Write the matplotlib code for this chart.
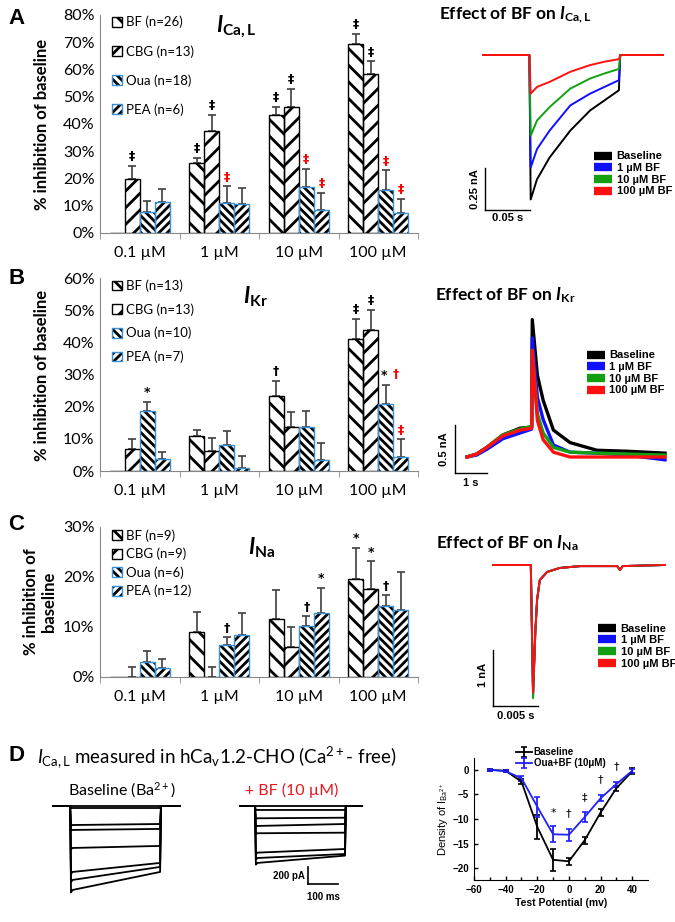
import matplotlib
matplotlib.use("Agg")
import matplotlib.pyplot as plt
import numpy as np
from matplotlib.patches import Patch
from matplotlib.lines import Line2D
from matplotlib.legend_handler import HandlerTuple

plt.rcParams['font.family'] = ['Lato', 'DejaVu Sans']
plt.rcParams['mathtext.fontset'] = 'custom'
plt.rcParams['mathtext.rm'] = 'Lato'
plt.rcParams['mathtext.it'] = 'Lato:italic'
plt.rcParams['mathtext.bf'] = 'Lato:bold'
plt.rcParams['mathtext.bfit'] = 'Lato:bold:italic'
plt.rcParams['hatch.linewidth'] = 2.0

W, H = 675, 922

# ---------------- bar data (% inhibition of baseline) ----------------
concentrations = ["0.1 µM", "1 µM", "10 µM", "100 µM"]
series = ["BF", "CBG", "Oua", "PEA"]

ica_n = [26, 13, 18, 6]
ica_bf = [0, 25.6, 43.4, 69.4]
ica_cbg = [19.9, 37.6, 46.2, 58.2]
ica_oua = [7.7, 11.0, 16.8, 15.7]
ica_pea = [11.3, 10.5, 8.4, 7.3]
ica_bf_err = [0, 2.0, 3.0, 3.7]
ica_cbg_err = [4.8, 5.8, 6.6, 4.8]
ica_oua_err = [4.2, 6.1, 6.7, 7.3]
ica_pea_err = [5.0, 5.9, 6.3, 5.3]
# (concentration index, series index, symbol, colour, x shift in points)
ica_marks = [(0, 1, '‡', 'k', 0), (1, 0, '‡', 'k', 0), (1, 1, '‡', 'k', 0), (1, 2, '‡', 'r', 0),
             (2, 0, '‡', 'k', 0), (2, 1, '‡', 'k', 0), (2, 2, '‡', 'r', 0), (2, 3, '‡', 'r', 0),
             (3, 0, '‡', 'k', 0), (3, 1, '‡', 'k', 0), (3, 2, '‡', 'r', 0), (3, 3, '‡', 'r', 0)]

ikr_n = [13, 13, 10, 7]
ikr_bf = [0, 10.8, 23.2, 41.0]
ikr_cbg = [6.7, 6.3, 13.7, 43.7]
ikr_oua = [18.7, 8.2, 13.8, 20.8]
ikr_pea = [3.6, 0.8, 3.3, 4.5]
ikr_bf_err = [0, 2.0, 4.8, 6.3]
ikr_cbg_err = [3.4, 4.0, 4.7, 6.3]
ikr_oua_err = [2.9, 4.3, 4.8, 5.9]
ikr_pea_err = [2.4, 3.9, 5.4, 5.3]
ikr_marks = [(0, 2, '*', 'k', 0), (2, 0, '†', 'k', 0), (3, 0, '‡', 'k', 0), (3, 1, '‡', 'k', 0),
             (3, 2, '*', 'k', -1), (3, 2, '†', 'r', 7), (3, 3, '‡', 'r', 0)]

ina_n = [9, 9, 6, 12]
ina_bf = [0, 8.9, 11.5, 19.5]
ina_cbg = [0, 0, 6.0, 17.6]
ina_oua = [3.0, 6.4, 10.1, 14.1]
ina_pea = [1.7, 8.3, 12.8, 13.3]
ina_bf_err = [0, 4.1, 5.8, 6.3]
ina_cbg_err = [1.9, 1.9, 4.0, 5.5]
ina_oua_err = [2.1, 1.5, 2.0, 2.2]
ina_pea_err = [1.9, 4.4, 5.0, 7.6]
ina_marks = [(1, 2, '†', 'k', 0), (2, 2, '†', 'k', 0), (2, 3, '*', 'k', 0),
             (3, 0, '*', 'k', 0), (3, 1, '*', 'k', 0), (3, 2, '†', 'k', 0)]

# ---------------- representative current traces ----------------
trace_labels = ["Baseline", "1 µM BF", "10 µM BF", "100 µM BF"]
trace_colors = ["black", "#1010ff", "#12a012", "#ff1010"]

ica_t = [0.0, 0.0515, 0.053, 0.060, 0.074, 0.097, 0.119, 0.135, 0.151, 0.1525, 0.2]   # s
ica_base = [0, 0, -0.86, -0.74, -0.61, -0.45, -0.33, -0.27, -0.21, 0, 0]              # nA
ica_1 = [0, 0, -0.67, -0.56, -0.45, -0.30, -0.23, -0.19, -0.15, 0, 0]
ica_10 = [0, 0, -0.48, -0.39, -0.31, -0.20, -0.14, -0.11, -0.083, 0, 0]
ica_100 = [0, 0, -0.23, -0.19, -0.16, -0.10, -0.06, -0.04, -0.025, 0, 0]

ikr_t = [0, 0.3, 0.62, 1.12, 1.66, 2.02, 2.04, 2.2, 2.38, 2.7, 3.22, 4.06, 5.0, 6.19]   # s
ikr_base = [0, 0.03, 0.10, 0.23, 0.30, 0.31, 1.43, 0.85, 0.59, 0.28, 0.15, 0.07, 0.06, 0.04]
ikr_1 = [0, 0.02, 0.08, 0.19, 0.25, 0.29, 1.24, 0.62, 0.39, 0.125, 0.05, 0.04, 0.02, -0.03]
ikr_10 = [0, 0.03, 0.10, 0.23, 0.29, 0.32, 1.11, 0.45, 0.25, 0.10, 0.05, 0.04, 0.03, 0.02]
ikr_100 = [0, 0.03, 0.10, 0.22, 0.28, 0.30, 1.11, 0.38, 0.18, 0.05, 0.0, 0.0, 0.0, 0.0]

ina_t = [0, 4.2, 4.45, 4.7, 4.9, 5.2, 6.0, 7.4, 9.7, 13.8, 14.1, 14.4, 19.1]          # ms
ina_base = [0, 0, -2.30, -1.2, -0.62, -0.27, -0.125, -0.054, -0.02, -0.02, -0.09, -0.02, 0]
ina_1 = [0, 0, -2.36, -1.2, -0.62, -0.27, -0.125, -0.054, -0.02, -0.02, -0.09, -0.02, 0]
ina_10 = [0, 0, -2.38, -1.2, -0.62, -0.27, -0.125, -0.054, -0.02, -0.02, -0.09, -0.02, 0]
ina_100 = [0, 0, -2.28, -1.2, -0.62, -0.27, -0.125, -0.054, -0.02, -0.02, -0.09, -0.02, 0]

# hCav1.2 Ba2+ current families (pA), step start / step end level per sweep
d_base_t = [0, 57, 60, 65, 357, 360, 423]             # ms
d_base_start = [0, -24, -224, -282, -494, -776, -870, -988]
d_base_end = [0, -24, -212, -270, -470, -670, -717, -776]
d_bf_t = [0, 50, 53, 58, 350, 353, 407]
d_bf_start = [0, -47, -145, -235, -321, -549, -612, -670]
d_bf_end = [0, -47, -138, -212, -314, -506, -565, -584]

# I-V relation
iv_v = [-50, -40, -30, -20, -10, 0, 10, 20, 30, 40]
iv_base = [0.0, -0.2, -2.4, -11.6, -18.3, -18.6, -14.3, -8.7, -3.75, -0.3]
iv_base_err = [0.2, 0.2, 0.5, 2.4, 2.2, 0.7, 0.7, 0.7, 0.5, 0.6]
iv_oua = [0.0, -0.3, -1.7, -7.5, -13.1, -13.2, -9.6, -5.8, -2.9, -0.2]
iv_oua_err = [0.2, 0.2, 0.5, 2.0, 1.6, 1.2, 1.1, 0.6, 0.5, 0.4]
iv_mark_v = [-10, 0, 10, 20, 30]
iv_mark_y = [-9.8, -9.8, -6.6, -3.0, -0.3]
iv_mark_sym = ['*', '†', '‡', '†', '†']

hatches = ['\\\\', '//', '\\\\\\\\', '////']
edges = ['black', 'black', '#3b8fd6', '#3b8fd6']
err_col = '#404040'


def px_axes(fig, x0, y0, x1, y1):
    return fig.add_axes([x0 / W, 1 - y1 / H, (x1 - x0) / W, (y1 - y0) / H])


def bar_panel(ax, means, errs, ns, ymax, marks, title, title_xy, leg_spacing):
    x = np.arange(len(concentrations))
    width = 0.19
    offsets = (np.arange(4) - 1.5) * width
    handles = []
    for i in range(4):
        m = np.array(means[i], dtype=float)
        e = np.array(errs[i], dtype=float)
        ax.bar(x + offsets[i], m, width, color='white', edgecolor='black',
               hatch=hatches[i], linewidth=0, zorder=2)
        ax.bar(x + offsets[i], m, width, fill=False, edgecolor=edges[i],
               linewidth=1.0, zorder=3)
        has = e > 0
        ax.errorbar(x[has] + offsets[i], m[has], yerr=[np.zeros(has.sum()), e[has]],
                    fmt='none', ecolor=err_col, elinewidth=1.2, capsize=3,
                    capthick=1.2, zorder=1)
        handles.append((Patch(facecolor='white', edgecolor='black', hatch=hatches[i], linewidth=0),
                        Patch(fill=False, edgecolor=edges[i], linewidth=1.0)))
    for gi, si, sym, col, dx in marks:
        top = means[si][gi] + errs[si][gi]
        dy = 2 if dx <= 0 else 3
        ax.annotate(sym, (x[gi] + offsets[si], top), xytext=(dx, dy),
                    textcoords='offset points', ha='center', va='bottom',
                    fontsize=9, color=col, fontweight='bold', family='DejaVu Sans')
    labels = [f"{s} (n={n})" for s, n in zip(series, ns)]
    ax.legend(handles, labels, handler_map={tuple: HandlerTuple(ndivide=1)},
              loc='upper left', bbox_to_anchor=(0.02, 1.02), frameon=False,
              fontsize=9.5, handlelength=0.75, handleheight=0.75,
              handletextpad=0.35, labelspacing=leg_spacing, borderaxespad=0)
    ax.text(title_xy[0], title_xy[1], title, transform=ax.transAxes,
            ha='center', va='center', fontsize=16)
    ax.set_xlim(-0.5, 3.5)
    ax.set_ylim(0, ymax)
    ax.set_yticks(np.arange(0, ymax + 1, 10))
    ax.set_yticklabels([f"{v}%" for v in range(0, ymax + 1, 10)], fontsize=11.5)
    ax.set_xticks(x)
    ax.set_xticklabels(concentrations, fontsize=11.5)
    ax.set_xticks(np.arange(-0.5, 4, 1), minor=True)
    ax.tick_params(axis='x', which='major', length=0, pad=9)
    ax.tick_params(axis='x', which='minor', length=4, color='#888888')
    ax.tick_params(axis='y', length=0, pad=4)
    for s in ['top', 'right']:
        ax.spines[s].set_visible(False)
    for s in ['left', 'bottom']:
        ax.spines[s].set_color('#888888')


def trace_axes(ax, t, traces, xlim, ylim, vbar, hbar, vlab, hlab, lw, leg_anchor):
    for y, c, lab in zip(traces, trace_colors, trace_labels):
        ax.plot(t, y, color=c, lw=lw, label=lab)
    ax.plot([vbar[0], vbar[0]], [vbar[1], vbar[2]], color='black', lw=1)
    ax.plot([hbar[0], hbar[1]], [hbar[2], hbar[2]], color='black', lw=1)
    ax.text(vlab[0], vlab[1], vlab[2], rotation=90, ha='right', va='center',
            fontsize=8, fontweight='bold', family='Liberation Sans')
    ax.text(hlab[0], hlab[1], hlab[2], ha='center', va='top',
            fontsize=8, fontweight='bold', family='Liberation Sans')
    hs = [Line2D([], [], color=c, lw=6, solid_capstyle='butt') for c in trace_colors]
    ax.legend(hs, trace_labels, loc='upper left', bbox_to_anchor=leg_anchor,
              frameon=False, prop={'family': 'Liberation Sans', 'weight': 'bold', 'size': 8},
              handlelength=1.6, handletextpad=0.4, labelspacing=0.15, borderaxespad=0)
    ax.set_xlim(*xlim)
    ax.set_ylim(*ylim)
    ax.axis('off')


fig = plt.figure(figsize=(W / 100, H / 100), dpi=100)

# ---- bar panels ----
axA = px_axes(fig, 100, 15, 418, 233)
bar_panel(axA, [ica_bf, ica_cbg, ica_oua, ica_pea],
          [ica_bf_err, ica_cbg_err, ica_oua_err, ica_pea_err], ica_n, 80, ica_marks,
          r'$\mathbfit{I}_{\mathbf{Ca,L}}$', (0.43, 0.95), 1.25)
axB = px_axes(fig, 100, 278, 418, 471)
bar_panel(axB, [ikr_bf, ikr_cbg, ikr_oua, ikr_pea],
          [ikr_bf_err, ikr_cbg_err, ikr_oua_err, ikr_pea_err], ikr_n, 60, ikr_marks,
          r'$\mathbfit{I}_{\mathbf{Kr}}$', (0.49, 0.90), 0.85)
axC = px_axes(fig, 100, 527, 418, 677)
bar_panel(axC, [ina_bf, ina_cbg, ina_oua, ina_pea],
          [ina_bf_err, ina_cbg_err, ina_oua_err, ina_pea_err], ina_n, 30, ina_marks,
          r'$\mathbfit{I}_{\mathbf{Na}}$', (0.51, 0.86), 0.45)

fig.text(42 / W, 1 - 124 / H, '% inhibition of baseline', rotation=90, ha='center',
         va='center', fontsize=12, fontweight='bold')
fig.text(42 / W, 1 - 375 / H, '% inhibition of baseline', rotation=90, ha='center',
         va='center', fontsize=12, fontweight='bold')
fig.text(40 / W, 1 - 602 / H, '% inhibition of\nbaseline', rotation=90, ha='center',
         va='center', fontsize=12, fontweight='bold', linespacing=1.1)

for lab, yy in zip('ABCD', [18, 278, 525, 755]):
    fig.text(8 / W, 1 - yy / H, lab, ha='left', va='center', fontsize=16,
             fontweight='bold', family='Liberation Sans')

# ---- trace panels ----
fig.text(515 / W, 1 - 15 / H, r'Effect of BF on $\mathbfit{I}_{\mathbf{Ca,L}}$',
         ha='center', va='center', fontsize=12.5, fontweight='bold')
fig.text(505 / W, 1 - 295 / H, r'Effect of BF on $\mathbfit{I}_{\mathbf{Kr}}$',
         ha='center', va='center', fontsize=12.5, fontweight='bold')
fig.text(507 / W, 1 - 543 / H, r'Effect of BF on $\mathbfit{I}_{\mathbf{Na}}$',
         ha='center', va='center', fontsize=12.5, fontweight='bold')

axA2 = px_axes(fig, 470, 30, 670, 230)
trace_axes(axA2, ica_t, [ica_base, ica_1, ica_10, ica_100],
           (-0.01444, 0.20778), (-1.0417, 0.1488),
           (0.0022, -0.673, -0.923), (0.0022, 0.0522, -0.923),
           (-0.003, -0.798, '0.25 nA'), (0.027, -0.94, '0.05 s'), 1.4, (0.60, 0.415))
axB2 = px_axes(fig, 440, 300, 670, 500)
trace_axes(axB2, ikr_t, [ikr_base, ikr_1, ikr_10, ikr_100],
           (-0.844, 6.344), (-0.448, 1.635),
           (-0.375, 0.333, -0.1667), (-0.375, 0.625, -0.1667),
           (-0.55, 0.083, '0.5 nA'), (0.125, -0.22, '1 s'), 2.4, (0.62, 0.77))
axC2 = px_axes(fig, 470, 540, 670, 720)
trace_axes(axC2, ina_t, [ina_base, ina_1, ina_10, ina_100],
           (-2.556, 19.667), (-2.768, 0.446),
           (0.0, -1.52, -2.52), (0.0, 5.0, -2.52),
           (-0.6, -1.96, '1 nA'), (2.5, -2.6, '0.005 s'), 1.4, (0.62, 0.56))

# ---- panel D ----
fig.text(37 / W, 1 - 757 / H,
         r'$\mathit{I}_{\rm Ca,L}$ measured in hCa$_{\rm v}$1.2-CHO (Ca$^{2+}$- free)',
         ha='left', va='center', fontsize=13.5)
fig.text(122 / W, 1 - 790 / H, r'Baseline (Ba$^{2+}$)', ha='center', va='center', fontsize=11.5)
fig.text(292 / W, 1 - 790 / H, '+ BF (10 µM)', ha='center', va='center', fontsize=11.5,
         color='#e8141c')

axD1 = px_axes(fig, 45, 795, 185, 900)
for s0, s1 in zip(d_base_start, d_base_end):
    axD1.plot(d_base_t, [0, 0, s0 * 1.03, s0, s1, 0, 0], color='black', lw=1.3)
axD1.set_xlim(-26.7, 440)
axD1.set_ylim(-1106, 129)
axD1.axis('off')

axD2 = px_axes(fig, 230, 795, 370, 900)
for s0, s1 in zip(d_bf_start, d_bf_end):
    axD2.plot(d_bf_t, [0, 0, s0 * 1.03, s0, s1, 0, 0], color='black', lw=1.3)
axD2.plot([227, 227], [-717, -917], color='black', lw=1.2)
axD2.plot([227, 327], [-917, -917], color='black', lw=1.2)
axD2.text(215, -820, '200 pA', ha='right', va='center', fontsize=7, fontweight='bold',
          family='Liberation Sans')
axD2.text(277, -1010, '100 ms', ha='center', va='top', fontsize=7, fontweight='bold',
          family='Liberation Sans')
axD2.set_xlim(-33.3, 433.3)
axD2.set_ylim(-1106, 129)
axD2.axis('off')

axIV = px_axes(fig, 474, 758, 648, 880)
axIV.errorbar(iv_v, iv_base, yerr=iv_base_err, color='black', lw=1.3, capsize=2,
              capthick=1.2, label='Baseline')
axIV.errorbar(iv_v, iv_oua, yerr=iv_oua_err, color='#2020ff', lw=1.3, capsize=2,
              capthick=1.2, label='Oua+BF (10μM)')
for v, y, s in zip(iv_mark_v, iv_mark_y, iv_mark_sym):
    axIV.text(v, y, s, ha='center', va='bottom', fontsize=8, family='DejaVu Sans')
axIV.set_xlim(-60, 50)
axIV.set_ylim(-22.4, 2.4)
axIV.set_xticks([-60, -40, -20, 0, 20, 40])
axIV.set_xticks(np.arange(-50, 50, 20), minor=True)
axIV.set_yticks([0, -5, -10, -15, -20])
axIV.tick_params(which='both', direction='in', labelsize=7, width=1)
axIV.tick_params(which='major', length=3)
axIV.tick_params(which='minor', length=2)
for lab in axIV.get_xticklabels() + axIV.get_yticklabels():
    lab.set_fontweight('bold')
    lab.set_family('Liberation Sans')
for s in ['top', 'right']:
    axIV.spines[s].set_visible(False)
axIV.set_xlabel('Test Potential (mv)', fontsize=7.5, fontweight='bold',
                family='Liberation Sans', labelpad=2)
axIV.set_ylabel(r'Density of I$_{\rm Ba^{2+}}$', fontsize=8, family='Liberation Sans',
                labelpad=2)
axIV.legend(loc='upper left', bbox_to_anchor=(0.22, 1.12), frameon=False,
            prop={'family': 'Liberation Sans', 'weight': 'bold', 'size': 7},
            handlelength=1.6, handletextpad=0.2, labelspacing=0.1, borderaxespad=0)

fig.savefig('out.png', dpi=100)
